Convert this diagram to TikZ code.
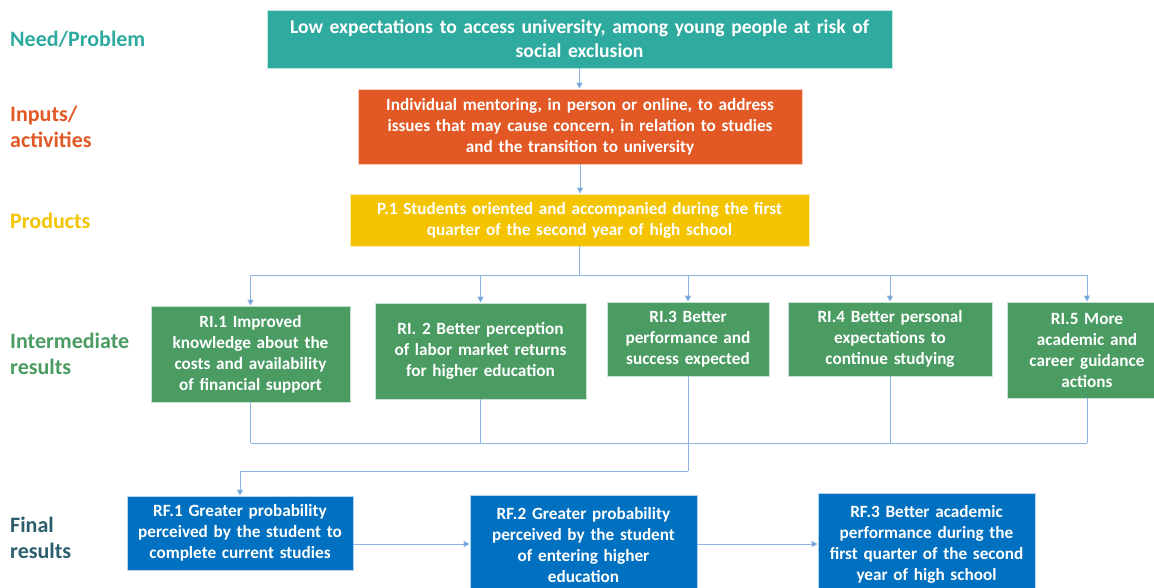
\documentclass[tikz,border=0pt]{standalone}
\usepackage{fontspec}
\setmainfont{Carlito}
\usepackage{xcolor}
\usepackage{tikz}
\usetikzlibrary{arrows.meta, positioning, calc}
\definecolor{needteal}{RGB}{46, 170, 159}
\definecolor{inputorange}{RGB}{226, 89, 38}
\definecolor{prodyellow}{RGB}{244, 196, 0}
\definecolor{midgreen}{RGB}{74, 156, 99}
\definecolor{finalblue}{RGB}{0, 112, 192}
\definecolor{finalslate}{RGB}{44, 94, 110}
\definecolor{linkblue}{RGB}{141, 180, 226}
\definecolor{tipblue}{RGB}{91, 155, 213}

\begin{document}
\begin{tikzpicture}[x=1pt, y=-1pt,
  box/.style={draw=white!70!#1, fill=#1, line width=0.6pt, text=white, align=center,
    font=\fontsize{17.2}{21}\selectfont\bfseries, inner sep=0pt},
  stage/.style={anchor=west, align=left, inner sep=0pt, text=#1,
    font=\fontsize{22}{26}\selectfont\bfseries},
  link/.style={linkblue, line width=1pt},
  flow/.style={link, -{Triangle[length=6pt, width=6pt, fill=tipblue]}}]
\clip (0,0) rectangle (1154,588);
\fill[white] (0,0) rectangle (1154,588);
% row labels
\node[stage=needteal] (lneed) at (10,39) {Need/Problem};
\node[stage=inputorange] (linput) at (10,127) {Inputs/\\activities};
\node[stage=prodyellow] (lprod) at (10,221) {Products};
\node[stage=midgreen] (lmid) at (10,354) {Intermediate\\results};
\node[stage=finalslate] (lfinal) at (10,538) {Final\\results};
% chain at the top
\node[box=needteal, minimum width=625pt, minimum height=58pt, text width=615pt,
  font=\fontsize{19.6}{24}\selectfont\bfseries] (need) at (579.5,39)
  {Low expectations to access university, among young people at risk of\\social exclusion};
\node[box=inputorange, minimum width=444pt, minimum height=75pt, text width=440pt] (input) at (580,126.5)
  {Individual mentoring, in person or online, to address\\issues that may cause concern, in relation to studies\\and the transition to university};
\node[box=prodyellow, minimum width=459pt, minimum height=52pt, text width=455pt] (prod) at (579.5,220)
  {P.1 Students oriented and accompanied during the first\\quarter of the second year of high school};
% intermediate results
\node[box=midgreen, minimum width=199pt, minimum height=96pt, text width=196pt] (ri1) at (250.5,354)
  {RI.1 Improved\\knowledge about the\\costs and availability\\of financial support};
\node[box=midgreen, minimum width=211pt, minimum height=96pt, text width=208pt] (ri2) at (480.5,351)
  {RI. 2 Better perception\\of labor market returns\\for higher education};
\node[box=midgreen, minimum width=162pt, minimum height=74pt, text width=159pt] (ri3) at (688,339)
  {RI.3 Better\\performance and\\success expected};
\node[box=midgreen, minimum width=204pt, minimum height=74pt, text width=201pt] (ri4) at (890,339)
  {RI.4 Better personal\\expectations to\\continue studying};
\node[box=midgreen, minimum width=160pt, minimum height=96pt, text width=157pt] (ri5) at (1087,350)
  {RI.5 More\\academic and\\career guidance\\actions};
% final results
\node[box=finalblue, minimum width=226pt, minimum height=74pt, text width=223pt] (rf1) at (240,533)
  {RF.1 Greater probability\\perceived by the student to\\complete current studies};
\node[box=finalblue, minimum width=227pt, minimum height=101pt, text width=224pt] (rf2) at (583.5,545.5)
  {RF.2 Greater probability\\perceived by the student\\of entering higher\\education};
\node[box=finalblue, minimum width=217pt, minimum height=101pt, text width=214pt] (rf3) at (926.5,544)
  {RF.3 Better academic\\performance during the\\first quarter of the second\\year of high school};
% connectors
\coordinate (split) at (580,275);
\coordinate (merge) at (688,443);
\coordinate (drop) at (688,471);
\draw[flow] (need.south) -- (need.south |- input.north);
\draw[flow] (input.south) -- (input.south |- prod.north);
\draw[link] (prod.south) -- (prod.south |- split);
\draw[link] (ri1.north |- split) -- (ri5.north |- split);
\foreach \r in {ri1, ri2, ri3, ri4, ri5}{
  \draw[flow] (\r.north |- split) -- (\r.north);
  \draw[link] (\r.south) -- (\r.south |- merge);
}
\draw[link] (ri1.south |- merge) -- (ri5.south |- merge);
\draw[link] (merge) -- (drop);
\draw[flow] (drop) -- (rf1.north |- drop) -- (rf1.north);
\draw[flow] (rf1.east |- 0,544) -- (rf2.west |- 0,544);
\draw[flow] (rf2.east |- 0,544) -- (rf3.west |- 0,544);
\end{tikzpicture}
\end{document}
